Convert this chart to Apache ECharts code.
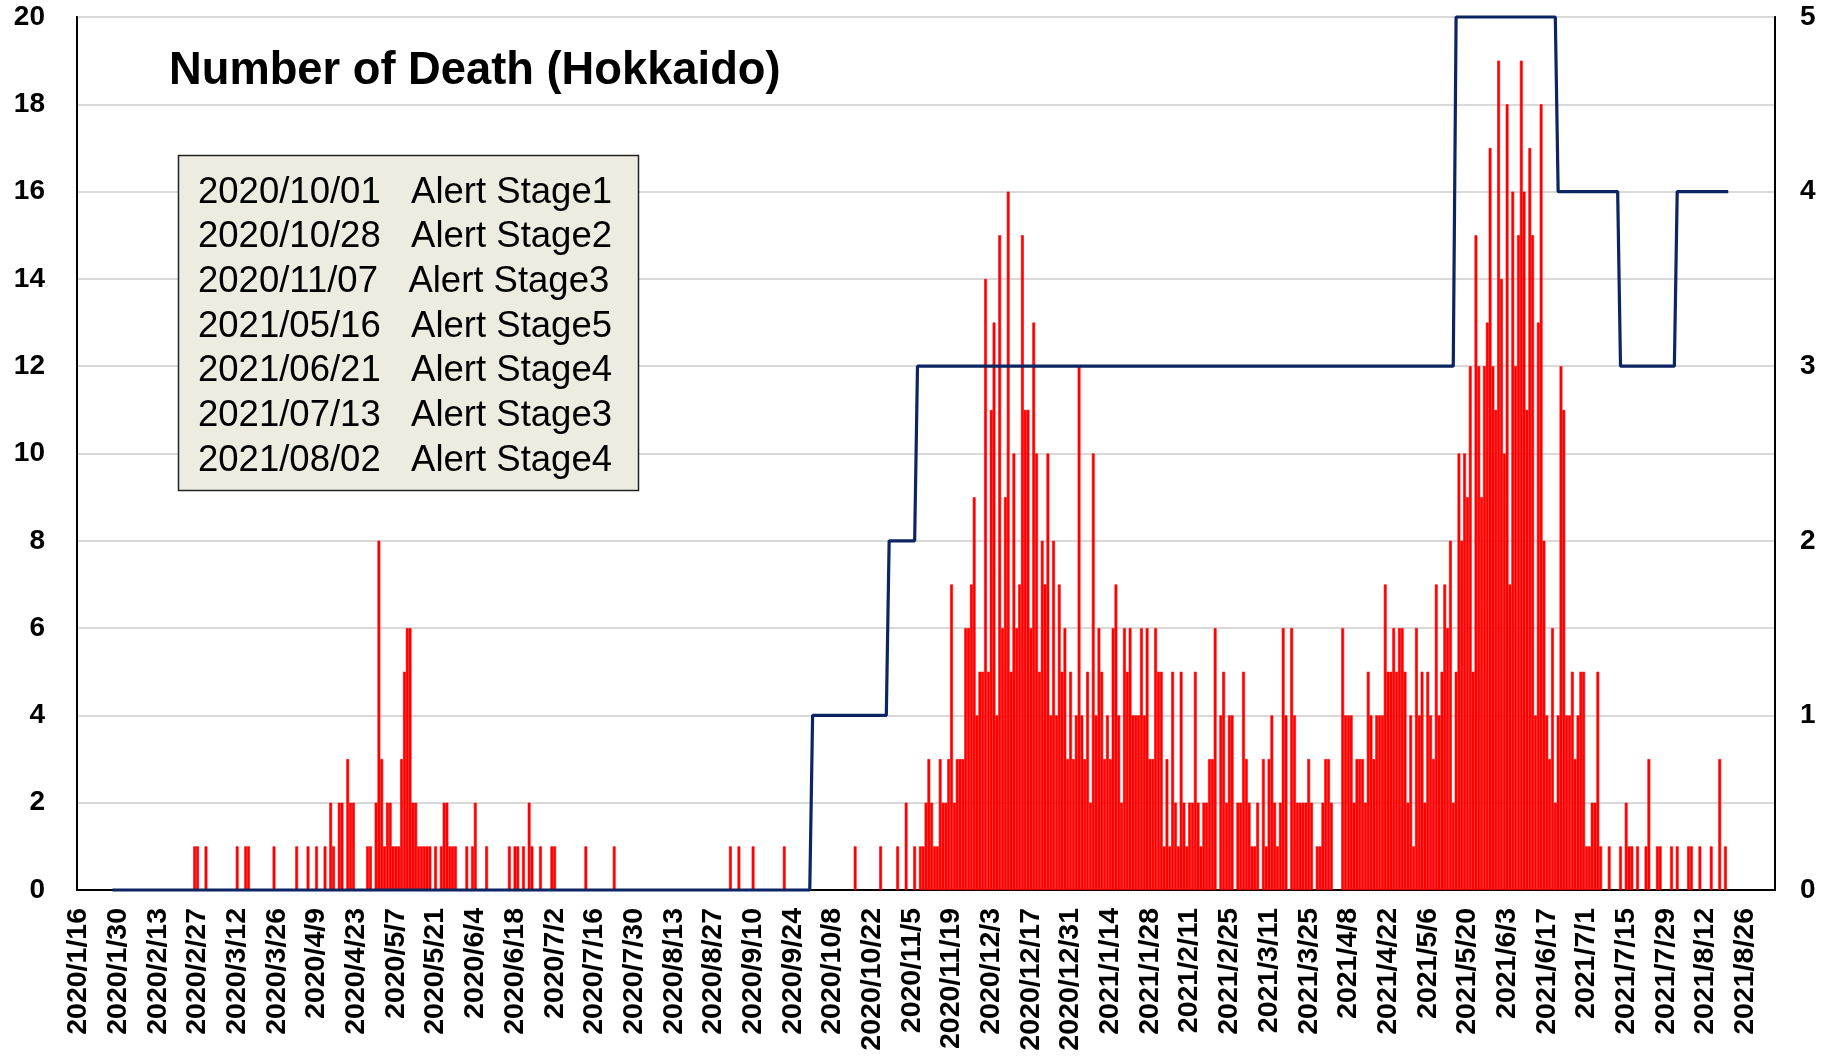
<!DOCTYPE html>
<html><head><meta charset="utf-8">
<script src="https://cdn.jsdelivr.net/npm/echarts@6/dist/echarts.min.js"></script>
<style>html,body{margin:0;padding:0;background:#fff}#c{width:1829px;height:1057px}</style>
</head><body><div id="c"></div>
<script>
// ---- axis range ----
const startDate = '2020/1/16';
const endDate = '2021/9/5';
const labelStep = 14;

// ---- daily deaths: sparse list before Nov 2020 ----
const earlyDeaths = [
  ['2020/2/26',1],['2020/2/27',1],['2020/3/1',1],['2020/3/12',1],['2020/3/15',1],['2020/3/16',1],
  ['2020/3/25',1],['2020/4/2',1],['2020/4/6',1],['2020/4/9',1],['2020/4/12',1],['2020/4/14',2],
  ['2020/4/15',1],['2020/4/17',2],['2020/4/18',2],['2020/4/20',3],['2020/4/21',2],['2020/4/22',2],
  ['2020/4/27',1],['2020/4/28',1],['2020/4/30',2],['2020/5/1',8],['2020/5/2',3],['2020/5/3',1],
  ['2020/5/4',2],['2020/5/5',2],['2020/5/6',1],['2020/5/7',1],['2020/5/8',1],['2020/5/9',3],
  ['2020/5/10',5],['2020/5/11',6],['2020/5/12',6],['2020/5/13',2],['2020/5/14',2],['2020/5/15',1],
  ['2020/5/16',1],['2020/5/17',1],['2020/5/18',1],['2020/5/19',1],['2020/5/21',1],['2020/5/23',1],
  ['2020/5/24',2],['2020/5/25',2],['2020/5/26',1],['2020/5/27',1],['2020/5/28',1],['2020/6/1',1],
  ['2020/6/3',1],['2020/6/4',2],['2020/6/8',1],['2020/6/16',1],['2020/6/18',1],['2020/6/19',1],
  ['2020/6/21',1],['2020/6/23',2],['2020/6/24',1],['2020/6/27',1],['2020/7/1',1],['2020/7/2',1],
  ['2020/7/13',1],['2020/7/23',1],['2020/9/2',1],['2020/9/5',1],['2020/9/10',1],['2020/9/21',1],
  ['2020/10/16',1],['2020/10/25',1],['2020/10/31',1]
];

// ---- daily deaths: one array per month (from day 1) ----
const deaths2020Nov = [0,0,2,0,0,1,0,1,1,2,3,2,1,1,3,2,2,3,7,2,3,3,3,6,6,7,9,4,5,5];
const deaths2020Dec = [14,5,11,13,4,15,6,9,16,5,10,6,7,15,11,11,6,13,10,5,8,7,10,4,8,4,7,5,6,3,5];
const deaths2021Jan = [3,4,12,4,3,5,2,10,4,6,5,3,4,3,6,7,4,2,6,5,6,4,4,4,6,4,6,3,3,6,5];
const deaths2021Feb = [5,1,3,1,5,2,1,5,2,1,2,2,5,2,1,2,2,3,3,6,0,4,5,2,4,4,0,2];
const deaths2021Mar = [2,5,3,2,1,1,2,0,3,1,3,4,2,1,2,6,4,0,6,4,2,2,2,2,3,2,0,1,1,2,3];
const deaths2021Apr = [3,2,0,0,0,6,4,4,4,2,3,3,3,2,5,4,3,4,4,4,7,5,5,6,5,6,6,5,2,4];
const deaths2021May = [1,6,4,5,2,5,4,3,7,4,5,7,6,8,2,5,10,8,10,9,12,5,15,12,9,12,13,17,12,11,19];
const deaths2021Jun = [14,10,18,7,16,12,15,19,16,11,17,15,4,13,18,8,4,3,6,2,4,12,11,4,4,5,3,4,5,5];
const deaths2021Jul = [1,1,2,2,5,1,0,0,1,0,0,0,1,0,2,1,1,0,1,0,0,1,3,0,0,1,1,0,0,0,1];
const deaths2021Aug = [0,1,0,0,0,1,1,0,0,1,0,0,0,1,0,0,3,0,1,0];
const monthlyDeaths = [
  ['2020/11/1', deaths2020Nov], ['2020/12/1', deaths2020Dec], ['2021/1/1', deaths2021Jan],
  ['2021/2/1', deaths2021Feb], ['2021/3/1', deaths2021Mar], ['2021/4/1', deaths2021Apr],
  ['2021/5/1', deaths2021May], ['2021/6/1', deaths2021Jun], ['2021/7/1', deaths2021Jul],
  ['2021/8/1', deaths2021Aug]
];

// ---- alert stage (right axis) ----
const alertStart = '2020/1/28';
const alertEnd = '2021/8/20';
const alertDates = ['2020/10/01','2020/10/28','2020/11/07','2021/05/16','2021/06/21','2021/07/13','2021/08/02'];
const alertStages = [1,2,3,5,4,3,4];

// ---- texts ----
const titleText = 'Number of Death (Hokkaido)';

// ---- build ----
function parse(s){ const p = s.split('/').map(Number); return Date.UTC(p[0], p[1]-1, p[2]); }
function fmt(t){ const d = new Date(t); return d.getUTCFullYear()+'/'+(d.getUTCMonth()+1)+'/'+d.getUTCDate(); }
const DAY = 86400000;
const categories = [];
for (let t = parse(startDate); t <= parse(endDate); t += DAY) categories.push(fmt(t));
const idx = {}; categories.forEach((c,i)=>idx[c]=i);

// days without deaths stay empty (no mark drawn)
const deaths = categories.map(()=> null);
earlyDeaths.forEach(([d,v])=>{ deaths[idx[fmt(parse(d))]] = v; });
monthlyDeaths.forEach(([d,arr])=>{ const s = idx[fmt(parse(d))]; arr.forEach((v,k)=>{ deaths[s+k] = v > 0 ? v : null; }); });

const aStart = parse(alertStart), aEnd = parse(alertEnd);
const stage = categories.map(c=>{
  const t = parse(c);
  if (t < aStart || t > aEnd) return null;
  let v = 0;
  alertDates.forEach((d,j)=>{ if (parse(d) <= t) v = alertStages[j]; });
  return v;
});

const FONT = '"Liberation Sans", Arial, sans-serif';
const legendLines = alertDates.map((d,j)=> d + '   Alert Stage' + alertStages[j]);
const graphics = [
  { type:'rect', shape:{x:178.5, y:155.5, width:460, height:335}, style:{fill:'#EEECE1', stroke:'#222', lineWidth:1.5}, z:10 },
  { type:'text', x:169, y:71.5, style:{text:titleText, fontSize:45.3, fontWeight:'bold', fontFamily:FONT, fill:'#000', verticalAlign:'middle'}, z:10 }
];
legendLines.forEach((s,j)=>{
  graphics.push({ type:'text', x:198, y:192.5 + j*44.7, style:{text:s, fontSize:36.5, fontFamily:FONT, fill:'#000', verticalAlign:'middle'}, z:11 });
});

const chart = echarts.init(document.getElementById('c'), null, {renderer:'canvas'});
chart.setOption({
  animation:false,
  backgroundColor:'#fff',
  textStyle:{fontFamily:FONT},
  grid:{left:77, right:54, top:17, bottom:167, show:true, borderColor:'#000', borderWidth:2, backgroundColor:'#fff'},
  xAxis:{
    type:'category', data:categories, boundaryGap:true,
    axisLine:{lineStyle:{color:'#000', width:2}},
    axisTick:{interval:labelStep-1, length:8, lineStyle:{color:'#000', width:2}},
    axisLabel:{interval:labelStep-1, rotate:90, fontSize:28.5, fontWeight:'bold', color:'#000', margin:18, fontFamily:FONT}
  },
  yAxis:[
    { type:'value', min:0, max:20, interval:2,
      axisLine:{show:true, lineStyle:{color:'#000', width:2}}, axisTick:{show:false},
      axisLabel:{fontSize:28, fontWeight:'bold', color:'#000', margin:32, fontFamily:FONT},
      splitLine:{lineStyle:{color:'#D9D9D9', width:2}} },
    { type:'value', min:0, max:5, interval:1, position:'right',
      axisLine:{show:true, lineStyle:{color:'#000', width:2}}, axisTick:{show:false},
      axisLabel:{fontSize:28, fontWeight:'bold', color:'#000', margin:25, fontFamily:FONT},
      splitLine:{show:false} }
  ],
  series:[
    { type:'bar', data:deaths, itemStyle:{color:'#FF0000', borderColor:'#FF0000', borderWidth:0.6}, barCategoryGap:'0%', z:2 },
    { type:'line', yAxisIndex:1, data:stage, showSymbol:false, clip:false,
      lineStyle:{color:'#0B2462', width:3.2}, z:3 }
  ],
  graphic:graphics
});
</script></body></html>
